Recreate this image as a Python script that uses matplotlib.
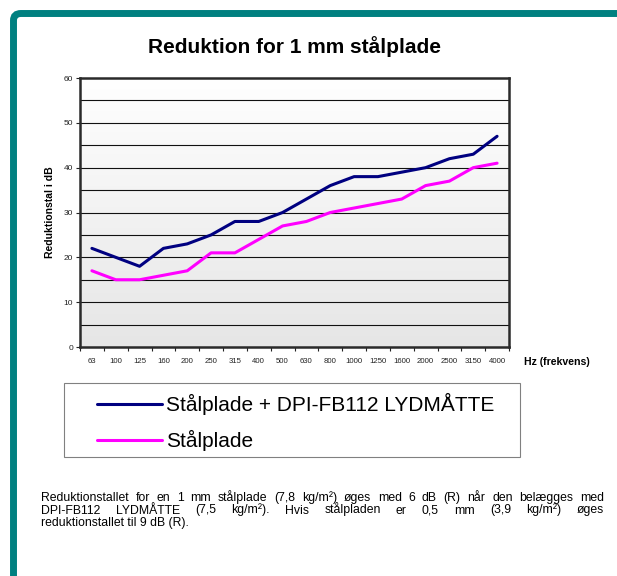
import numpy as np
import matplotlib
matplotlib.use("Agg")
import matplotlib.pyplot as plt
from matplotlib.patches import FancyBboxPatch, Rectangle

plt.rcParams['font.family'] = ['Liberation Sans', 'DejaVu Sans']

# data
freqs = ["63", "100", "125", "160", "200", "250", "315", "400", "500", "630",
         "800", "1000", "1250", "1600", "2000", "2500", "3150", "4000"]
med_maatte = [22, 20, 18, 22, 23, 25, 28, 28, 30, 33, 36, 38, 38, 39, 40, 42, 43, 47]
uden_maatte = [17, 15, 15, 16, 17, 21, 21, 24, 27, 28, 30, 31, 32, 33, 36, 37, 40, 41]
labels = ["Stålplade + DPI-FB112 LYDMÅTTE", "Stålplade"]
colors = ["#000080", "#FF00FF"]

W, H = 617, 576
fig = plt.figure(figsize=(W / 100, H / 100), dpi=100)

def px(x0, y0, w, h):
    # pixel box (top-left origin) -> figure fraction rect
    return [x0 / W, 1 - (y0 + h) / H, w / W, h / H]

# teal frame
frame = FancyBboxPatch((13.5 / W, -0.05), 1.1, 1 - 13.5 / H + 0.05,
                       boxstyle="round,pad=0,rounding_size=0.012",
                       transform=fig.transFigure, facecolor="none",
                       edgecolor="#008080", linewidth=5.0, zorder=0)
fig.patches.append(frame)

ax = fig.add_axes(px(80, 78, 429, 269))
x = np.arange(len(freqs))

# gradient background white -> light gray
grad = np.linspace(0, 1, 256).reshape(-1, 1)
ax.imshow(grad, extent=[0, 1, 0, 1], transform=ax.transAxes, aspect="auto",
          cmap=matplotlib.colors.LinearSegmentedColormap.from_list("g", ["#e6e6e6", "#ffffff"]),
          origin="lower", zorder=0)

for yv in range(5, 60, 5):
    ax.axhline(yv, color="#111111", linewidth=0.8, zorder=1)

lines = []
for vals, c, lab in zip([med_maatte, uden_maatte], colors, labels):
    ln, = ax.plot(x, vals, color=c, linewidth=2.2, label=lab, zorder=3,
                  solid_joinstyle="round", solid_capstyle="round")
    lines.append(ln)

ax.set_xlim(-0.5, len(freqs) - 0.5)
ax.set_ylim(0, 60)
ax.set_yticks(range(0, 61, 10))
ax.tick_params(axis="y", labelsize=6, colors="#222222", length=3, width=0.8, pad=2)
ax.set_xticks(x)
ax.set_xticklabels(freqs)
ax.tick_params(axis="x", which="major", length=0, labelsize=5.6, pad=8, colors="#222222")
ax.set_xticks(np.arange(-0.5, len(freqs), 1), minor=True)
ax.tick_params(axis="x", which="minor", length=3, width=0.8, color="#222222")
for s in ax.spines.values():
    s.set_linewidth(1.8)
    s.set_color("#2a2a2a")

ax.set_ylabel("Reduktionstal i dB", fontsize=7.5, fontweight="bold", labelpad=6)
fig.text(557 / W, 1 - 362 / H, "Hz (frekvens)", fontsize=7.6, fontweight="bold",
         ha="center", va="center")
fig.text(294 / W, 1 - 47 / H, "Reduktion for 1 mm stålplade", fontsize=15,
         fontweight="bold", ha="center", va="center")

# legend box
fig.patches.append(Rectangle((64 / W, 1 - 457 / H), 456 / W, 74 / H,
                             transform=fig.transFigure, facecolor="white",
                             edgecolor="#808080", linewidth=0.8, zorder=1))
fig.legend(handles=lines, loc="center left", bbox_to_anchor=(97 / W, 1 - 422 / H),
           frameon=False, fontsize=15, handlelength=3.1, handletextpad=0.2,
           labelspacing=0.7, borderpad=0, borderaxespad=0)

# justified paragraph
para = ["Reduktionstallet for en 1 mm stålplade (7,8 kg/m²) øges med 6 dB (R) når den belægges med",
        "DPI-FB112 LYDMÅTTE (7,5 kg/m²). Hvis stålpladen er 0,5 mm (3,9 kg/m²) øges",
        "reduktionstallet til 9 dB (R)."]
left, right = 41, 604
renderer = fig.canvas.get_renderer()
probe = fig.text(0, 0, para[0], fontsize=8)
fs = 8 * (right - left) * 0.91 / probe.get_window_extent(renderer).width
probe.remove()
for i, line in enumerate(para):
    y = 1 - (501 + i * 12.5) / H
    words = line.split(" ")
    if i == len(para) - 1:
        fig.text(left / W, y, line, fontsize=fs, va="baseline")
        continue
    ts = [fig.text(0, y, w_, fontsize=fs, va="baseline") for w_ in words]
    widths = [t.get_window_extent(renderer).width for t in ts]
    gap = (right - left - sum(widths)) / (len(words) - 1)
    xp = left
    for t, wd in zip(ts, widths):
        t.set_x(xp / W)
        xp += wd + gap

fig.savefig("out.png", dpi=100)
